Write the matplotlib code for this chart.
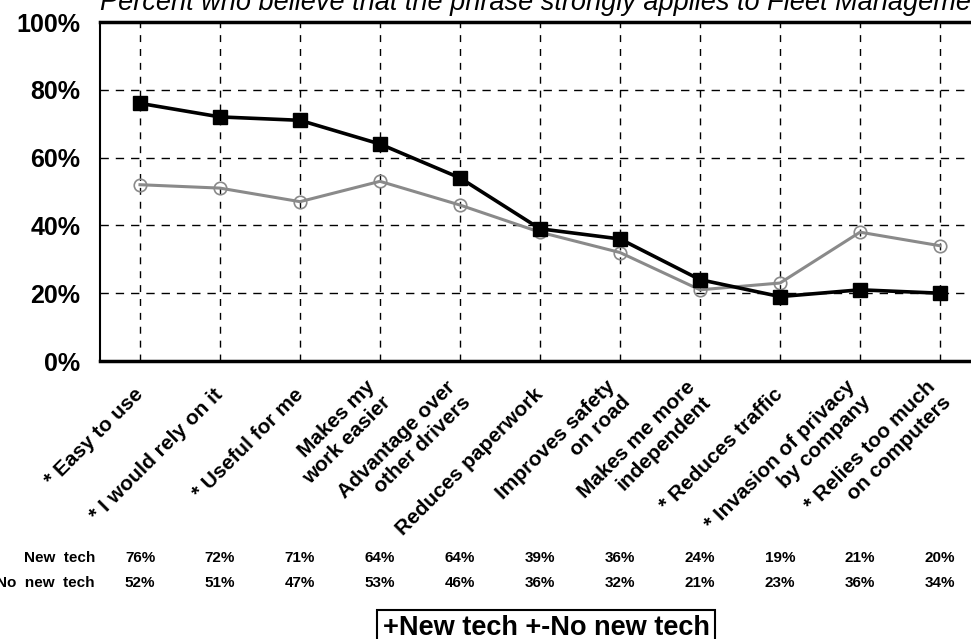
import matplotlib
matplotlib.use("Agg")
import matplotlib.pyplot as plt

# categories (x axis)
categories = [
    "* Easy to use",
    "* I would rely on it",
    "* Useful for me",
    "Makes my\nwork easier",
    "Advantage over\nother drivers",
    "Reduces paperwork",
    "Improves safety\non road",
    "Makes me more\nindependent",
    "* Reduces traffic",
    "* Invasion of privacy\nby company",
    "* Relies too much\non computers",
]

# values as plotted (percent)
new_tech = [76, 72, 71, 64, 54, 39, 36, 24, 19, 21, 20]
no_new_tech = [52, 51, 47, 53, 46, 38, 32, 21, 23, 38, 34]

# values printed in the table under the chart
new_tech_table = [76, 72, 71, 64, 64, 39, 36, 24, 19, 21, 20]
no_new_tech_table = [52, 51, 47, 53, 46, 36, 32, 21, 23, 36, 34]

y_ticks = [0, 20, 40, 60, 80, 100]

title = "Percent who believe that the phrase strongly applies to Fleet Management"

plt.rcParams["font.family"] = ["Liberation Sans", "DejaVu Sans"]

W, H = 971, 639
fig = plt.figure(figsize=(W / 100, H / 100), dpi=100)

# axes: left edge at 100px, top at 22px, bottom at 361px, runs off the right side
x0 = 140.0
step = 80.0
left_px, right_px, top_px, bot_px = 100, 971, 22, 361
ax = fig.add_axes([left_px / W, 1 - bot_px / H, (right_px - left_px) / W, (bot_px - top_px) / H])
xs = list(range(len(categories)))
ax.set_xlim((left_px - x0) / step, (right_px - x0) / step)
ax.set_ylim(0, 100)

# grid
for i in xs:
    ax.axvline(i, color="black", lw=1, ls=(0, (5, 5)), zorder=1)
for v in y_ticks[1:-1]:
    ax.axhline(v, color="black", lw=1, ls=(0, (6, 5)), zorder=1)

ax.plot(xs, no_new_tech, color="#8a8a8a", lw=2.2, marker="o", ms=9,
        mfc="none", mec="#8a8a8a", mew=1.2, zorder=3)
ax.plot(xs, new_tech, color="black", lw=2.6, marker="s", ms=9.5,
        mfc="black", mec="black", zorder=4)

ax.spines["right"].set_visible(False)
ax.spines["top"].set_linewidth(2.5)
ax.spines["bottom"].set_linewidth(2.5)
ax.spines["left"].set_linewidth(1.5)

ax.set_yticks(y_ticks)
ax.set_yticklabels([f"{v}%" for v in y_ticks], fontsize=18, fontweight="bold")
ax.tick_params(axis="y", length=0, pad=14)

ax.set_xticks(xs)
ax.set_xticklabels(categories, rotation=45, ha="right", va="center",
                   rotation_mode="anchor", fontsize=15, fontweight="bold",
                   multialignment="right", linespacing=1.2)
ax.tick_params(axis="x", length=0, pad=22)

# title, partly cut off at the top like the scan
fig.text(left_px / W, 1 - 10 / H, title, fontsize=19.5, fontstyle="italic",
         ha="left", va="baseline")

# table under the chart
def px_x(i):
    return (x0 + step * i) / W

row_y = [1 - 558 / H, 1 - 583 / H]
fig.text(95 / W, row_y[0], "New  tech", fontsize=11, fontweight="bold", ha="right", va="center")
fig.text(95 / W, row_y[1], "No  new  tech", fontsize=11, fontweight="bold", ha="right", va="center")
for i in xs:
    fig.text(px_x(i), row_y[0], f"{new_tech_table[i]}%", fontsize=11, fontweight="bold",
             ha="center", va="center")
    fig.text(px_x(i), row_y[1], f"{no_new_tech_table[i]}%", fontsize=11, fontweight="bold",
             ha="center", va="center")

# legend box
fig.text(546 / W, 1 - 628 / H, "+New tech +-No new tech", fontsize=19.5, fontweight="bold",
         ha="center", va="center",
         bbox=dict(boxstyle="square,pad=0.2", fc="white", ec="black", lw=1.5))

fig.savefig("out.png", dpi=100)
